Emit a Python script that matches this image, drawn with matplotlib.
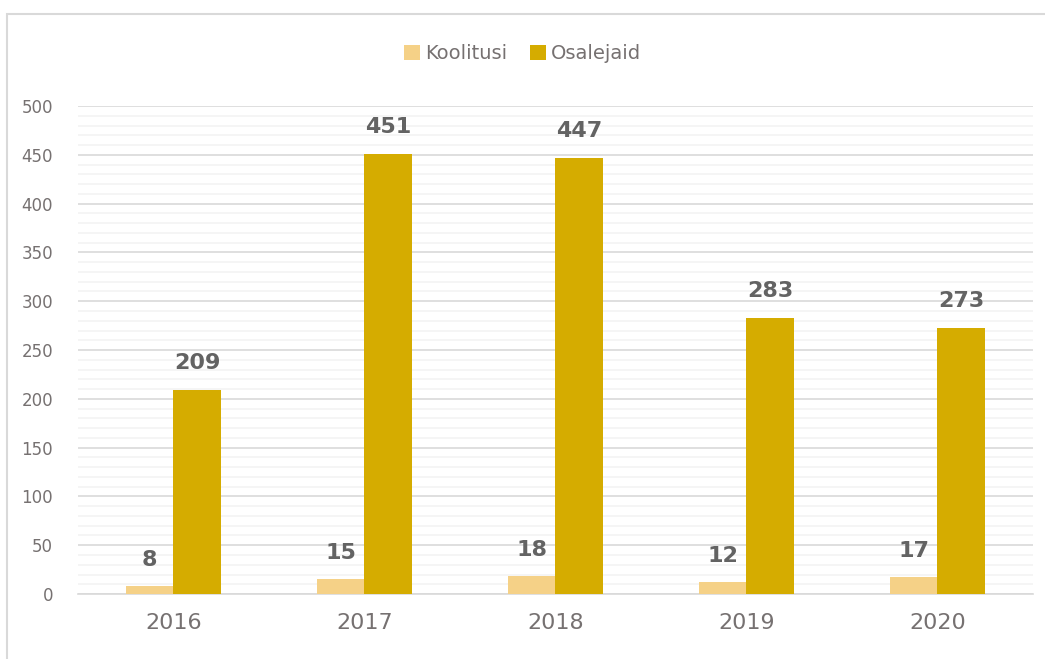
import numpy as np
import matplotlib.pyplot as plt
from matplotlib.patches import Rectangle

years = ['2016', '2017', '2018', '2019', '2020']
koolitusi = [8, 15, 18, 12, 17]
osalejaid = [209, 451, 447, 283, 273]

c_koolitusi = '#F5D187'
c_osalejaid = '#D5AC00'
txt = '#767171'
lbl = '#636363'

fig = plt.figure(figsize=(10.45, 6.59), dpi=100)
ax = fig.add_axes([0.0746, 0.0986, 0.9139, 0.7405])

x = np.arange(len(years))
w = 0.25
b1 = ax.bar(x - w / 2, koolitusi, w, color=c_koolitusi, label='Koolitusi', zorder=3)
b2 = ax.bar(x + w / 2, osalejaid, w, color=c_osalejaid, label='Osalejaid', zorder=3)

# value labels above each bar
for bars in (b1, b2):
    for r in bars:
        ax.annotate(str(int(r.get_height())),
                    (r.get_x() + r.get_width() / 2, r.get_height()),
                    xytext=(0, 12), textcoords='offset points',
                    ha='center', va='bottom', fontsize=16, fontweight='bold', color=lbl)

ax.set_xlim(-0.5, len(years) - 0.5)
ax.set_ylim(0, 500)
ax.set_yticks(np.arange(0, 501, 50))
ax.set_yticks(np.arange(0, 501, 10), minor=True)
ax.set_xticks(x)
ax.set_xticklabels(years)

ax.grid(axis='y', which='major', color='#D9D9D9', linewidth=1.2, zorder=0)
ax.grid(axis='y', which='minor', color='#F2F2F2', linewidth=1.1, zorder=0)
for s in ['top', 'right', 'left']:
    ax.spines[s].set_visible(False)
ax.spines['bottom'].set_color('#D9D9D9')
ax.spines['bottom'].set_linewidth(1.2)

ax.tick_params(axis='y', which='both', length=0, labelsize=12, labelcolor=txt, pad=18)
ax.tick_params(axis='x', length=0, labelsize=16, labelcolor=txt, pad=14)

fig.legend(handles=[b1, b2], loc='center', bbox_to_anchor=(0.5, 0.919), ncol=2,
           frameon=False, fontsize=14, labelcolor=txt, handlelength=0.8,
           handleheight=0.8, handletextpad=0.25, columnspacing=1.2)

# light frame around the chart area
fig.patches.append(Rectangle((7 / 1045, -0.1), 1.2, 1 - 14 / 659 + 0.1,
                             transform=fig.transFigure, fill=False,
                             edgecolor='#D9D9D9', linewidth=1.5))

fig.savefig('out.png', dpi=100)
